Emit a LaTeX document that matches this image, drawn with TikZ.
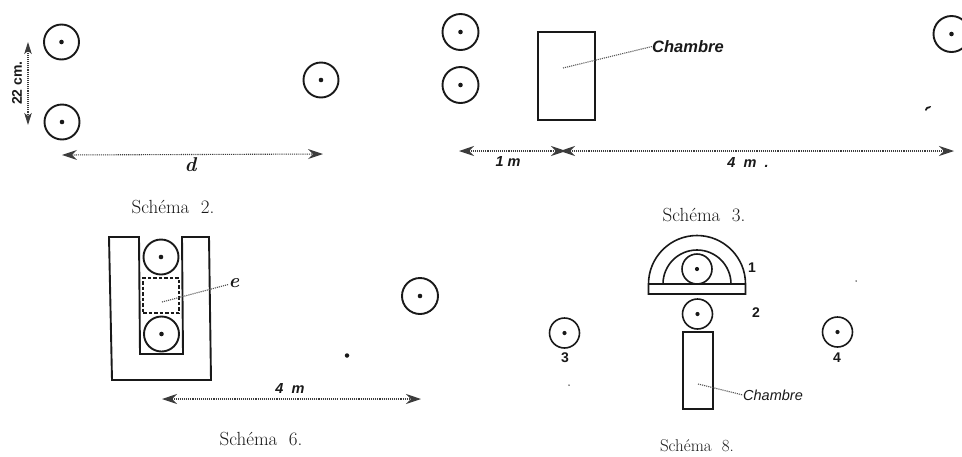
\documentclass[tikz,border=0pt]{standalone}
\usepackage{fontspec}
\newfontfamily\lblfont{Liberation Sans}
\usetikzlibrary{arrows.meta}
\definecolor{ink}{gray}{0.1}
\tikzset{
  x=1pt,y=-1pt,
  bubble/.style={circle,draw=ink,line width=1.9pt,inner sep=0pt,minimum size=#1,fill=white},
  smallbubble/.style={circle,draw=ink,line width=1.6pt,inner sep=0pt,minimum size=#1,fill=white},
  centre/.style={circle,fill=ink,draw=none,inner sep=0pt,minimum size=4.6pt},
  wall/.style={draw=ink,line width=1.9pt,line join=miter},
  thinwall/.style={draw=ink,line width=1.6pt},
  leader/.style={draw=ink!75,line width=1.1pt,densely dotted},
  dimline/.style={draw=ink!85,line width=1.1pt,densely dotted,{Stealth[inset=5pt,length=15pt,width=10pt]}-{Stealth[inset=5pt,length=15pt,width=10pt]}},
  vdimline/.style={draw=ink!85,line width=1.1pt,densely dotted,{Stealth[inset=3pt,length=12pt,width=7.5pt]}-{Stealth[inset=3pt,length=12pt,width=7.5pt]}},
  captiontext/.style={text=ink,font=\fontsize{19}{21}\selectfont,inner sep=0pt},
  lbl/.style={text=ink,font=\lblfont\itshape\bfseries\fontsize{14.5}{16}\selectfont,inner sep=0pt},
  num/.style={text=ink,font=\lblfont\bfseries\fontsize{14}{16}\selectfont,inner sep=0pt},
  speck/.style={circle,fill=ink,draw=none,inner sep=0pt,minimum size=#1},
}
\begin{document}
\begin{tikzpicture}
\useasboundingbox (0,0) rectangle (962,456);
% Schema 2
\node[bubble=35pt] (a1) at (61.5,42) {}; \node[centre] at (a1) {};
\node[bubble=35pt] (a2) at (62,122) {}; \node[centre] at (a2) {};
\node[bubble=35pt] (a3) at (321,80) {}; \node[centre] at (a3) {};
\coordinate (av1) at (28,42); \coordinate (av2) at (28,125);
\draw[vdimline] (av1) -- (av2);
\node[num,rotate=90] (a4) at (17,83) {22 cm.};
\coordinate (ah1) at (62,155); \coordinate (ah2) at (323,154);
\draw[dimline] (ah1) -- (ah2);
\node[lbl,font=\rmfamily\bfseries\itshape\fontsize{20}{22}\selectfont] (a5) at (190.5,165) {d};
\node[captiontext] (a6) at (173,207) {Schéma\ \ 2.};
% Schema 3
\node[bubble=36pt] (b1) at (460.5,32) {}; \node[centre] at (b1) {};
\node[bubble=36pt] (b2) at (460.5,85) {}; \node[centre] at (b2) {};
\node[bubble=36pt] (b3) at (951.5,34) {}; \node[centre] at (b3) {};
\node[draw=ink,line width=1.9pt,inner sep=0pt,minimum width=57pt,minimum height=88pt] (b4) at (566.5,76) {};
\coordinate (b5) at (563,68);
\node[lbl,anchor=west,font=\lblfont\itshape\bfseries\fontsize{16.5}{18}\selectfont] (b6) at (652,46.5) {Chambre};
\draw[leader] (b5) -- (b6.west);
\coordinate (bh1) at (459,151); \coordinate (bh2) at (566,151);
\coordinate (bh3) at (560,151); \coordinate (bh4) at (954,151);
\draw[dimline] (bh1) -- (bh2);
\draw[dimline] (bh3) -- (bh4);
\node[lbl] (b7) at (508,162) {1 m};
\node[lbl] (b8) at (748,163) {4\ \ m\ \ .};
\node[captiontext] (b9) at (704,215) {Schéma\ \ 3.};
\fill[ink] (925,110) .. controls (926,106) and (928,107) .. (931,106) -- (930,108) .. controls (928,108) and (927,109) .. (926,111) -- cycle;
% Schema 6
\draw[wall] (109,237) -- (139,237) -- (140,354) -- (183,354) -- (182,237) -- (209,237) -- (211,380) -- (112,380) -- cycle;
\node[bubble=35pt] (c1) at (161,257) {}; \node[centre] at (c1) {};
\node[bubble=35pt] (c2) at (161.5,334) {}; \node[centre] at (c2) {};
\node[bubble=36pt] (c3) at (420,296) {}; \node[centre] at (c3) {};
\node[draw=ink,line width=1.5pt,dash pattern=on 3.5pt off 2pt,inner sep=0pt,minimum width=36pt,minimum height=35pt] (c4) at (161,295.5) {};
\coordinate (c5) at (162,302);
\node[lbl,font=\rmfamily\bfseries\itshape\fontsize{20}{22}\selectfont] (c6) at (234,283) {e};
\draw[leader] (c5) -- (c6);
\node[speck=4.5pt] (c7) at (347,355.5) {};
\coordinate (ch1) at (162,399); \coordinate (ch2) at (421,399);
\draw[dimline] (ch1) -- (ch2);
\node[lbl] (c8) at (290,389) {4\ \ m};
\node[captiontext] (c9) at (261,439) {Schéma\ \ 6.};
% Schema 8
\draw[thinwall] (648.5,284) arc[start angle=-180,end angle=0,radius=48.5] -- (745.5,294) -- (648.5,294) -- cycle;
\draw[thinwall] (648.5,284) -- (745.5,284);
\draw[thinwall] (663,284) arc[start angle=-180,end angle=0,radius=34];
\node[smallbubble=30pt] (d1) at (697,269) {}; \node[centre,minimum size=4.2pt] at (d1) {};
\node[smallbubble=30pt] (d2) at (697.5,314) {}; \node[centre,minimum size=4.2pt] at (d2) {};
\node[smallbubble=30pt] (d3) at (564.5,333) {}; \node[centre,minimum size=4.2pt] at (d3) {};
\node[smallbubble=30pt] (d4) at (837.5,332) {}; \node[centre,minimum size=4.2pt] at (d4) {};
\node[num] (d5) at (752,268) {1};
\node[num] (d6) at (756,313) {2};
\node[num] (d7) at (565,358) {3};
\node[num] (d8) at (837,358) {4};
\node[draw=ink,line width=1.6pt,inner sep=0pt,minimum width=29.5pt,minimum height=77pt] (d9) at (698,370.5) {};
\coordinate (d10) at (698,384);
\node[lbl,anchor=west,font=\lblfont\itshape\fontsize{14.5}{16}\selectfont] (d11) at (743,395) {Chambre};
\draw[leader] (d10) -- (d11.west);
\node[captiontext,font=\fontsize{17}{19}\selectfont] (d12) at (697,446) {Schéma\ \ 8.};
\node[speck=1.5pt] (d13) at (856,281) {};
\node[speck=1.5pt] (d14) at (569,385) {};
\end{tikzpicture}
\end{document}
